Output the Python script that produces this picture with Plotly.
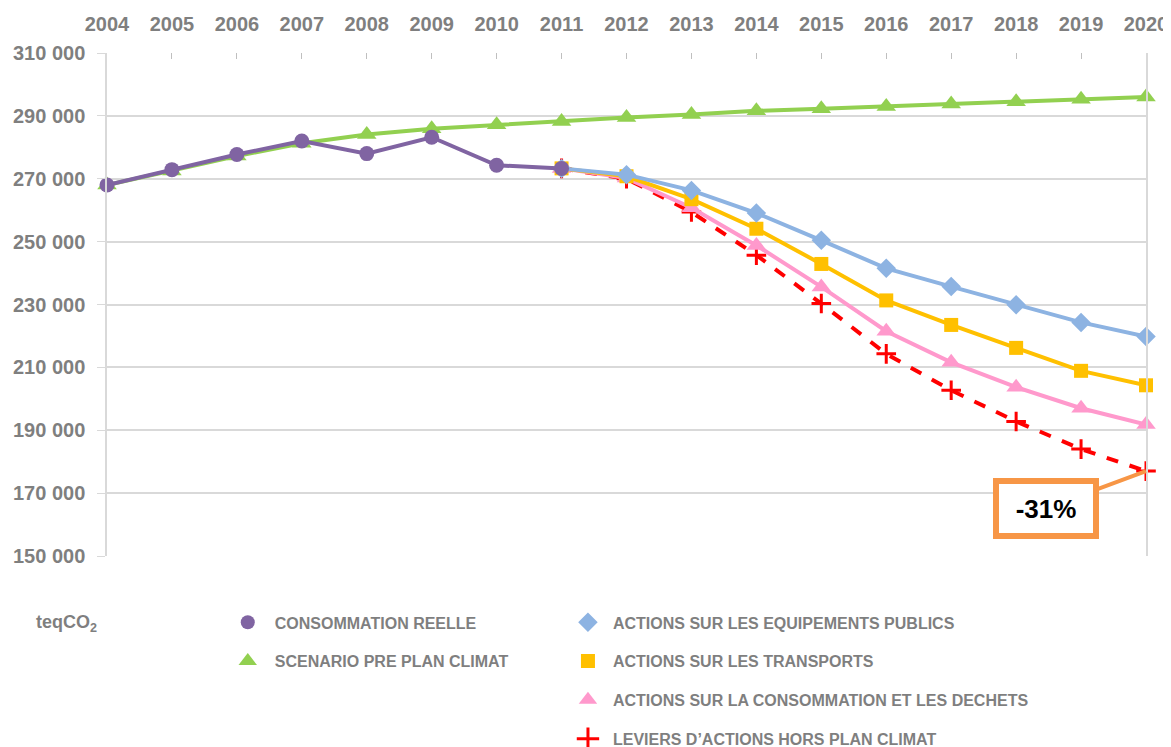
import plotly.graph_objects as go

years = list(range(2004, 2021))
years_hist = list(range(2004, 2012))
years_proj = list(range(2011, 2021))

conso_reelle = [268000, 272900, 277700, 282000, 278000, 283200, 274300, 273300]
scenario_pre = [268000, 272500, 277200, 281300, 284100, 285900, 287200, 288200,
                289500, 290400, 291600, 292300, 293000, 293800, 294500, 295300, 296000]
equip_publics = [273300, 271300, 266300, 259100, 250400, 241500, 235700, 229900, 224300, 219800]
transports = [273300, 270800, 263500, 254100, 242900, 231300, 223500, 216200, 208900, 204300]
conso_dechets = [273300, 270200, 260800, 248800, 235600, 221500, 211600, 203700, 197000, 191800]
leviers_hors = [273300, 270000, 259400, 245700, 230300, 214300, 202700, 192800, 184000, 177000]

y_ticks = [150000, 170000, 190000, 210000, 230000, 250000, 270000, 290000, 310000]
annot_text = "-31%"

names = {
    "reelle": "CONSOMMATION REELLE",
    "pre": "SCENARIO PRE PLAN CLIMAT",
    "equip": "ACTIONS SUR LES EQUIPEMENTS PUBLICS",
    "transp": "ACTIONS SUR LES TRANSPORTS",
    "dech": "ACTIONS SUR LA CONSOMMATION ET LES DECHETS",
    "hors": "LEVIERS D\u2019ACTIONS HORS PLAN CLIMAT",
}

C_PURPLE = "#8064a2"
C_GREEN = "#92d050"
C_BLUE = "#8db3e2"
C_YELLOW = "#ffc000"
C_PINK = "#ff99cc"
C_RED = "#ff0000"
C_ORANGE = "#f79646"

fig = go.Figure()

def add(x, y, color, symbol, size, name, dash="solid", mline=None):
    marker = dict(color=color, symbol=symbol, size=size)
    if mline:
        marker["line"] = dict(color=color, width=mline)
    fig.add_trace(go.Scatter(x=x, y=y, mode="lines+markers", cliponaxis=False,
                             line=dict(color=color, width=4, dash=dash),
                             marker=marker, showlegend=False, hoverinfo="x+y", name=name))

def add_leg(color, symbol, size, name, legend, mline=None):
    marker = dict(color=color, symbol=symbol, size=size)
    if mline:
        marker["line"] = dict(color=color, width=mline)
    fig.add_trace(go.Scatter(x=[None], y=[None], mode="markers", marker=marker,
                             name=name, legend=legend, legendgroup=name, showlegend=True))

add(years, scenario_pre, C_GREEN, "triangle-up", 17, names["pre"])
add(years_proj, leviers_hors, C_RED, "cross-thin", 14, names["hors"], dash="dash", mline=3)
add(years_proj, conso_dechets, C_PINK, "triangle-up", 17, names["dech"])
add(years_proj, transports, C_YELLOW, "square", 14, names["transp"])
add(years_proj, equip_publics, C_BLUE, "diamond", 15, names["equip"])
add(years_hist, conso_reelle, C_PURPLE, "circle", 15, names["reelle"])

add_leg(C_PURPLE, "circle", 14, names["reelle"], "legend")
add_leg(C_GREEN, "triangle-up", 17, names["pre"], "legend")
add_leg(C_BLUE, "diamond", 15, names["equip"], "legend2")
add_leg(C_YELLOW, "square", 14, names["transp"], "legend2")
add_leg(C_PINK, "triangle-up", 17, names["dech"], "legend2")
add_leg(C_RED, "cross-thin", 16, names["hors"], "legend2", mline=3)

GRAY = "#7f7f7f"
FAM = "Liberation Sans, Arial, sans-serif"
tickfont = dict(family=FAM, size=20, color=GRAY, weight="bold")
legfont = dict(family=FAM, size=16, color=GRAY, weight="bold")

# page has an 8px body margin: figure is sized/offset to compensate
OFF = 8
FW, FH = 1171 - OFF, 747 - OFF
L, T = 107.3 - OFF, 53.3 - OFF
R = FW - (1145.7 - OFF)
B = FH - (555.7 - OFF)
PW = FW - L - R
PH = FH - T - B

def px_x(px):
    return (px - OFF - L) / PW

def px_y(py):
    return ((T + PH) - (py - OFF)) / PH

fig.update_layout(
    width=FW, height=FH,
    margin=dict(l=L, r=R, t=T, b=B, autoexpand=False),
    plot_bgcolor="white", paper_bgcolor="white",
    separators=", ",
    xaxis=dict(side="top", range=[2004, 2020], tickmode="array", tickvals=years,
               ticktext=[str(y) for y in years], showgrid=False, zeroline=False,
               ticks="inside", ticklen=6, tickcolor="#bfbfbf", tickfont=tickfont,
               showline=False, automargin=False, ticklabelstandoff=17),
    yaxis=dict(range=[150000, 310000], tickmode="array", tickvals=y_ticks,
               tickformat=",d", showgrid=True, gridcolor="#d9d9d9", gridwidth=1.5,
               zeroline=False, showline=True, linecolor="#d9d9d9", linewidth=1.5, mirror=True,
               ticks="outside", ticklen=8, tickcolor="#d9d9d9", tickfont=tickfont,
               automargin=False, ticklabelstandoff=8),
    legend=dict(x=px_x(221), y=px_y(605), xanchor="left", yanchor="top", itemwidth=44,
                font=legfont, tracegroupgap=15, bgcolor="rgba(0,0,0,0)", itemsizing="trace"),
    legend2=dict(x=px_x(563), y=px_y(605), xanchor="left", yanchor="top", itemwidth=40,
                 font=legfont, tracegroupgap=15, bgcolor="rgba(0,0,0,0)", itemsizing="trace"),
    showlegend=True,
)

fig.add_annotation(x=2020, y=leviers_hors[-1], xref="x", yref="y",
                   ax=2018.462, ay=165250, axref="x", ayref="y",
                   text="<b>" + annot_text + "</b>", showarrow=True, arrowhead=0,
                   arrowwidth=4, arrowcolor=C_ORANGE,
                   font=dict(family=FAM, size=26, color="black"),
                   bordercolor=C_ORANGE, borderwidth=6, borderpad=0, bgcolor="white",
                   width=94, height=49)

fig.add_annotation(x=px_x(34), y=px_y(623), xref="paper", yref="paper",
                   text="teqCO<sub>2</sub>", showarrow=False, xanchor="left", yanchor="middle",
                   font=dict(family=FAM, size=18, color=GRAY, weight="bold"))

fig.write_html("out.html")
